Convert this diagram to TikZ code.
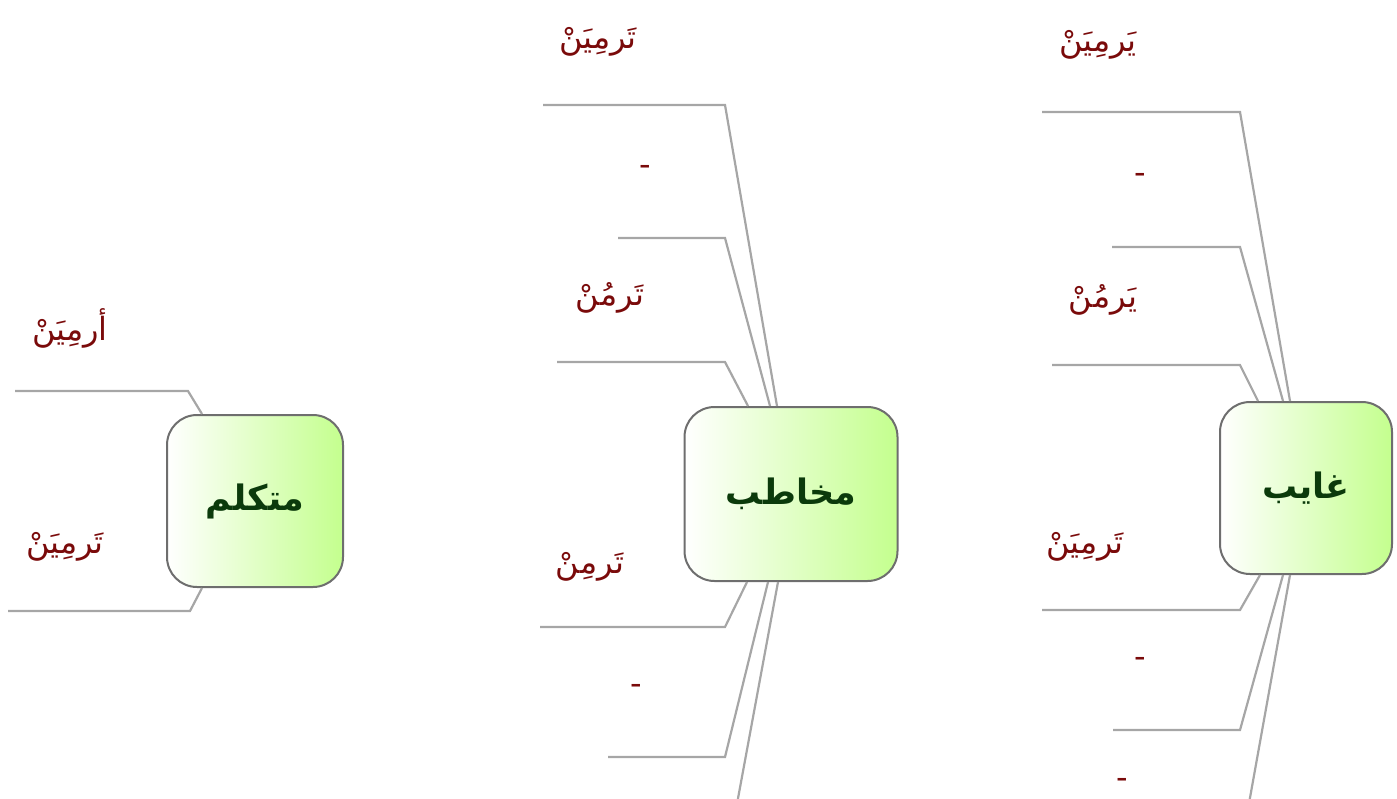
\documentclass[tikz,border=0pt]{standalone}
\usepackage{fontspec}
\newfontfamily\arabicfont[Script=Arabic]{DejaVu Sans}
\TeXXeTstate=1
\definecolor{leafred}{HTML}{7A0A0A}
\definecolor{rootgreen}{HTML}{0B3A0B}
\definecolor{boxgreen}{HTML}{C4FF8E}
\definecolor{leggray}{HTML}{A6A6A6}
\definecolor{rimgray}{HTML}{6E6E6E}
\newcommand{\ar}[1]{{\arabicfont\beginR #1\endR}}

\begin{document}
\begin{tikzpicture}[x=1pt,y=-1pt,
	bubble/.style={draw=rimgray,line width=2pt,rounded corners=30pt,left color=white,right color=boxgreen,
		inner sep=0pt,text=rootgreen,font=\fontsize{35}{40}\selectfont\bfseries},
	lbl/.style={text=leafred,inner sep=0pt,font=\fontsize{32}{36}\selectfont\arabicfont},
	leg/.style={draw=leggray,line width=2.2pt}]
	\useasboundingbox (0,0) rectangle (1397,798);
	\clip (0,0) rectangle (1397,798);

	% three root boxes
	\node[bubble,minimum width=176pt,minimum height=172pt] (mutakallim) at (255,501) {\ar{متكلم}};
	\node[bubble,minimum width=213pt,minimum height=174pt] (mukhatab) at (791,494) {\ar{مخاطب}};
	\node[bubble,minimum width=172pt,minimum height=172pt] (ghaib) at (1306,488) {\ar{غايب}};

	% mutakallim
	\coordinate (mtU1) at (15,391);
	\coordinate (mtD1) at (8,611);
	\draw[leg] ([xshift=-53pt]mutakallim.north) -- (188,391) -- (mtU1);
	\draw[leg] ([xshift=-53pt]mutakallim.south) -- (190,611) -- (mtD1);
	\node[lbl] (mtL1) at (70,328) {\ar{أرمِيَنْ}};
	\node[lbl] (mtL2) at (65,547) {\ar{تَرمِيَنْ}};

	% mukhatab
	\foreach \i/\dx/\ex/\ey in {1/-14/543/105,2/-21/618/238,3/-43/557/362}{
		\coordinate (mkU\i) at (\ex,\ey);
		\draw[leg] ([xshift=\dx pt]mukhatab.north) -- (725,\ey) -- (mkU\i);
	}
	\foreach \i/\dx/\ex/\ey in {1/-44/540/627,2/-23/608/757}{
		\coordinate (mkD\i) at (\ex,\ey);
		\draw[leg] ([xshift=\dx pt]mukhatab.south) -- (725,\ey) -- (mkD\i);
	}
	\coordinate (mkD3) at (734,820);
	\draw[leg] ([xshift=-13pt]mukhatab.south) -- (mkD3);
	\node[lbl] (mkL1) at (598,42) {\ar{تَرمِيَنْ}};
	\node[lbl] (mkL2) at (645,170) {-};
	\node[lbl] (mkL3) at (610,298) {\ar{تَرمُنْ}};
	\node[lbl] (mkL4) at (590,567) {\ar{تَرمِنْ}};
	\node[lbl] (mkL5) at (636,689) {-};

	% ghaib
	\foreach \i/\dx/\ex/\ey in {1/-16/1042/112,2/-23/1112/247,3/-48/1052/365}{
		\coordinate (ghU\i) at (\ex,\ey);
		\draw[leg] ([xshift=\dx pt]ghaib.north) -- (1240,\ey) -- (ghU\i);
	}
	\foreach \i/\dx/\ex/\ey in {1/-46/1042/610,2/-23/1113/730}{
		\coordinate (ghD\i) at (\ex,\ey);
		\draw[leg] ([xshift=\dx pt]ghaib.south) -- (1240,\ey) -- (ghD\i);
	}
	\coordinate (ghD3) at (1246,820);
	\draw[leg] ([xshift=-16pt]ghaib.south) -- (ghD3);
	\node[lbl] (ghL1) at (1098,45) {\ar{يَرمِيَنْ}};
	\node[lbl] (ghL2) at (1140,178) {-};
	\node[lbl] (ghL3) at (1103,300) {\ar{يَرمُنْ}};
	\node[lbl] (ghL4) at (1085,547) {\ar{تَرمِيَنْ}};
	\node[lbl] (ghL5) at (1140,662) {-};
	\node[lbl] (ghL6) at (1122,783) {-};
\end{tikzpicture}
\end{document}
